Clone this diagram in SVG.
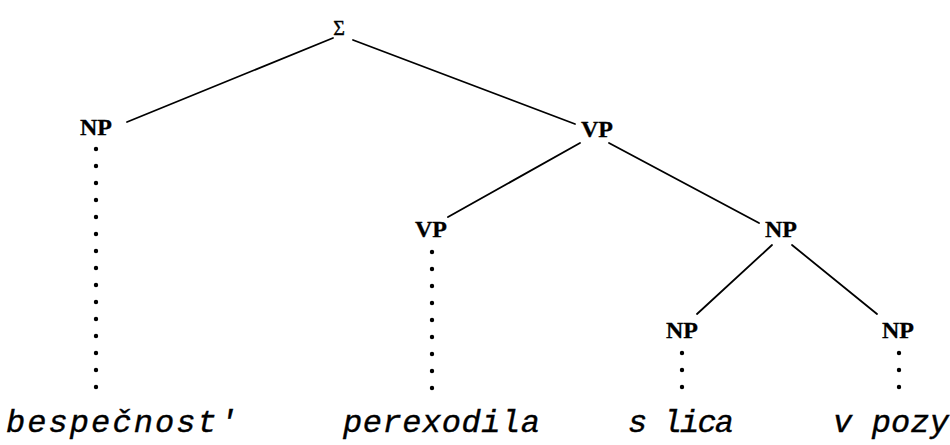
<svg xmlns="http://www.w3.org/2000/svg" width="950" height="445" viewBox="0 0 950 445">
  <style>
    .cat { font-family: "Liberation Serif", "DejaVu Serif", serif; font-weight: bold; font-size: 24px; fill: #000; stroke: #000; stroke-width: 0.3; text-anchor: middle; }
    .sig { font-family: "Liberation Serif", "DejaVu Serif", serif; font-size: 20px; fill: #000; stroke: #000; stroke-width: 0.4; text-anchor: middle; }
    .word { font-family: "Liberation Mono", "DejaVu Sans Mono", monospace; font-style: italic; font-size: 32px; fill: #000; stroke: #000; stroke-width: 0.4; }
    .edge { stroke: #000; stroke-width: 1.8; fill: none; stroke-linecap: round; }
    .dots { stroke: #000; stroke-width: 4.4; fill: none; stroke-linecap: round; stroke-dasharray: 0 17; }
  </style>

  <rect width="950" height="445" fill="#fff"/>

  <!-- tree branches and dotted lexical links -->
  <g id="connectors">
    <line class="edge" x1="333" y1="38" x2="127" y2="122"/>
    <line class="edge" x1="353" y1="40" x2="575" y2="124"/>
    <line class="edge" x1="580" y1="143" x2="448" y2="217"/>
    <line class="edge" x1="609" y1="143" x2="759" y2="223"/>
    <line class="edge" x1="772" y1="245" x2="697" y2="314"/>
    <line class="edge" x1="792" y1="245" x2="877" y2="314"/>

    <line class="dots" x1="96" y1="149" x2="96" y2="404"/>
    <line class="dots" x1="432" y1="252" x2="432" y2="405"/>
    <line class="dots" x1="682" y1="353" x2="682" y2="404"/>
    <line class="dots" x1="899" y1="353" x2="899" y2="404"/>
  </g>

  <g id="sigma"><text class="sig" x="339" y="35">Σ</text></g>
  <g id="np-subject"><text class="cat" x="96" y="135">NP</text></g>
  <g id="vp-top"><text class="cat" x="597" y="137">VP</text></g>
  <g id="vp-verb"><text class="cat" x="431" y="237">VP</text></g>
  <g id="np-object"><text class="cat" x="781" y="237">NP</text></g>
  <g id="np-left"><text class="cat" x="682" y="338">NP</text></g>
  <g id="np-right"><text class="cat" x="898" y="338">NP</text></g>

  <g id="words">
    <text class="word" x="6" y="432" textLength="232" lengthAdjust="spacing">bespečnost'</text>
    <text class="word" x="343" y="432" textLength="197" lengthAdjust="spacing">perexodila</text>
    <text class="word" x="628" y="432" textLength="106" lengthAdjust="spacing">s lica</text>
    <text class="word" x="833" y="432" textLength="116" lengthAdjust="spacing">v pozy</text>
  </g>
</svg>
